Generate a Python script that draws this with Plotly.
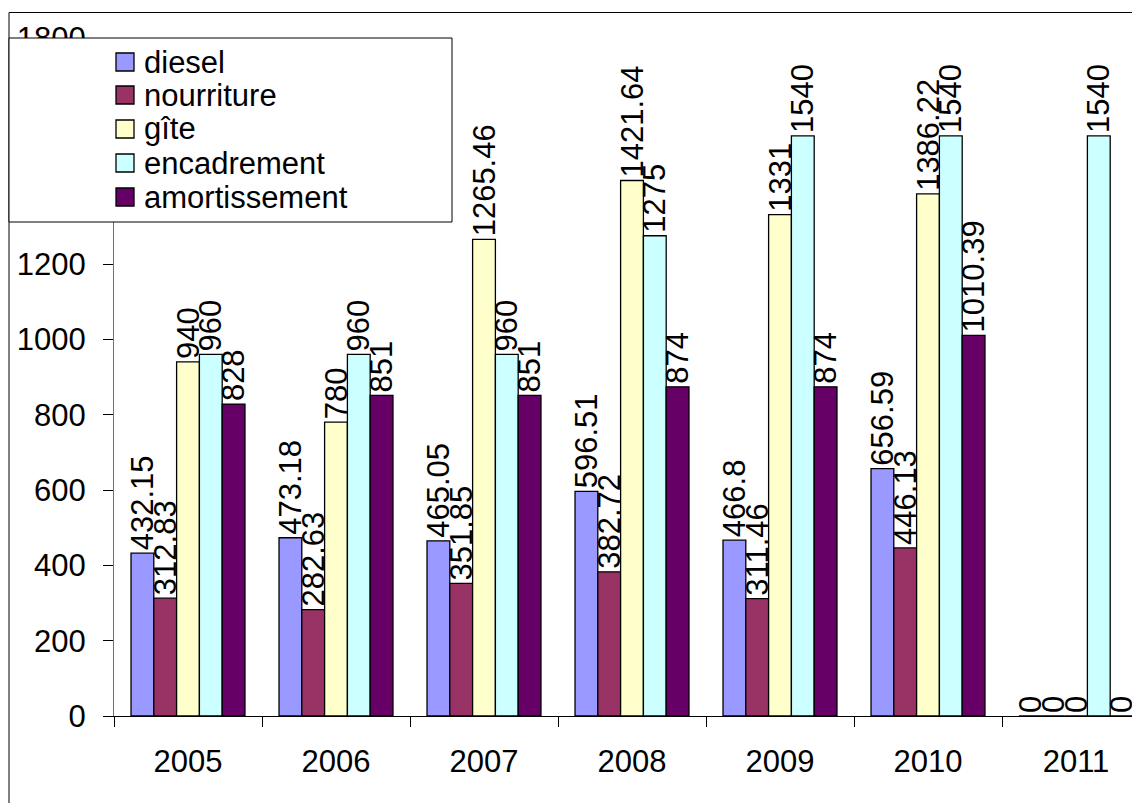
import plotly.graph_objects as go

years = ["2005", "2006", "2007", "2008", "2009", "2010", "2011"]
series_names = ["diesel", "nourriture", "gîte", "encadrement", "amortissement"]
diesel = [432.15, 473.18, 465.05, 596.51, 466.8, 656.59, 0]
nourriture = [312.83, 282.63, 351.85, 382.72, 311.46, 446.13, 0]
gite = [940, 780, 1265.46, 1421.64, 1331, 1386.22, 0]
encadrement = [960, 960, 960, 1275, 1540, 1540, 1540]
amortissement = [828, 851, 851, 874, 874, 1010.39, 0]
colors = ["#9999FF", "#993366", "#FFFFCC", "#CCFFFF", "#660066"]
y_ticks = [0, 200, 400, 600, 800, 1000, 1200, 1400, 1600, 1800]

all_series = [diesel, nourriture, gite, encadrement, amortissement]

FONT = "Liberation Sans, Arial, sans-serif"
FS = 31
OFF = 8  # browser body margin
W, H = 1140 - OFF, 803 - OFF
L, R, T, B = 114 - OFF, 0, 38 - OFF, 87
PW = W - L - R
PH = H - T - B

def px_x(x):  # page pixel -> paper
    return (x - OFF - L) / PW

def px_y(y):
    return (H - B - (y - OFF)) / PH

fig = go.Figure()
for name, vals, col in zip(series_names, all_series, colors):
    fig.add_trace(go.Bar(
        name=name, x=years, y=vals,
        marker=dict(color=col, line=dict(color="black", width=1.3)),
        text=[f"{v:g}" for v in vals],
        textposition="outside", textangle=-90,
        textfont=dict(family=FONT, size=FS, color="black"),
        constraintext="none", cliponaxis=False,
        showlegend=False,
    ))

# outer chart border
fig.add_shape(type="rect", xref="paper", yref="paper",
              x0=px_x(9), x1=px_x(1160), y0=px_y(12.5), y1=px_y(830),
              line=dict(color="black", width=1), layer="above")

# legend box
fig.add_shape(type="rect", xref="paper", yref="paper",
              x0=px_x(9), x1=px_x(452), y0=px_y(38), y1=px_y(222),
              line=dict(color="black", width=1), fillcolor="white", layer="above")
row_y = [62, 95, 129, 163, 197]
for name, col, ry in zip(series_names, colors, row_y):
    fig.add_shape(type="rect", xref="paper", yref="paper",
                  x0=px_x(116), x1=px_x(134), y0=px_y(ry - 9), y1=px_y(ry + 9),
                  line=dict(color="black", width=1.3), fillcolor=col, layer="above")
    fig.add_annotation(xref="paper", yref="paper", x=px_x(142), y=px_y(ry),
                       text=name, showarrow=False, xanchor="left", yanchor="middle",
                       font=dict(family=FONT, size=FS, color="black"))

fig.update_layout(
    width=W, height=H,
    margin=dict(l=L, r=R, t=T, b=B, pad=0, autoexpand=False),
    paper_bgcolor="white", plot_bgcolor="white",
    barmode="group", bargap=0.23, bargroupgap=0,
    font=dict(family=FONT, size=FS, color="black"),
)
fig.update_xaxes(
    type="category", range=[-0.5, (1140 - 188) / 148.0],
    showline=True, linecolor="black", linewidth=1,
    ticks="outside", tickson="boundaries", ticklen=10, tickcolor="black",
    ticklabelstandoff=18, showgrid=False, zeroline=False, automargin=False,
    tickfont=dict(family=FONT, size=FS, color="black"),
)
fig.update_yaxes(
    range=[0, 1800], tickvals=y_ticks, ticktext=[str(v) for v in y_ticks],
    showline=True, linecolor="#707070", linewidth=1,
    ticks="outside", ticklen=10, tickcolor="black",
    ticklabelstandoff=11, showgrid=False, zeroline=False, automargin=False,
    tickfont=dict(family=FONT, size=FS, color="black"),
)

fig.write_html("out.html")
